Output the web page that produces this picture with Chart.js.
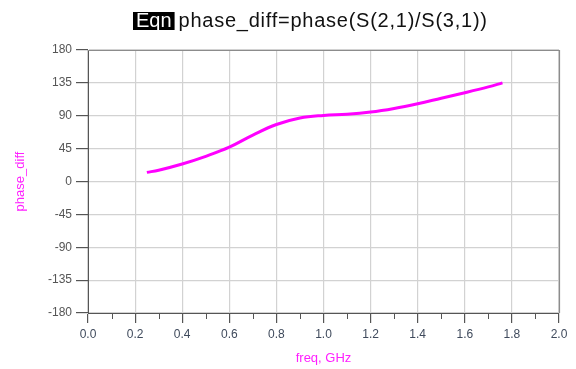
<!DOCTYPE html>
<html>
<head>
<meta charset="utf-8">
<script src="https://cdn.jsdelivr.net/npm/chart.js@4/dist/chart.umd.min.js"></script>
<style>
  html, body { margin: 0; padding: 0; background: #fff; }
  #wrap { width: 576px; height: 369px; }
</style>
</head>
<body>
<div id="wrap"><canvas id="c" width="576" height="369"></canvas></div>
<script>
// Frequency sweep (GHz) and the phase difference of S(2,1)/S(3,1) in degrees
const freqGHz   = [0.25, 0.30, 0.40, 0.50, 0.60, 0.70, 0.80, 0.90, 1.00, 1.10, 1.20, 1.30, 1.40, 1.50, 1.60, 1.70, 1.76];
const phaseDiff = [12.5, 15.5, 24.0, 34.5, 47.0, 63.5, 78.0, 87.0, 90.5, 92.0, 95.0, 100.0, 106.5, 114.0, 121.5, 129.5, 135.0];

const eqnTag   = 'Eqn';
const eqnText  = 'phase_diff=phase(S(2,1)/S(3,1))';
const xTitle   = 'freq, GHz';
const yTitle   = 'phase_diff';

const FONT = '"Liberation Sans", Arial, sans-serif';
const MAGENTA = '#ff1fff';

// Equation header drawn above the plot
const eqnHeader = {
  id: 'eqnHeader',
  afterDraw(chart) {
    const ctx = chart.ctx;
    ctx.save();
    ctx.font = '20px ' + FONT;
    ctx.textBaseline = 'alphabetic';
    const tagW = ctx.measureText(eqnTag).width;
    ctx.fillStyle = '#000';
    ctx.fillRect(133, 12, tagW + 6, 18);
    ctx.fillStyle = '#fff';
    ctx.fillText(eqnTag, 136, 27);
    ctx.fillStyle = '#111';
    ctx.letterSpacing = '0.75px';
    ctx.fillText(eqnText, 133 + tagW + 10, 27);
    ctx.restore();
  }
};

// Top/right frame of the plot box and short minor ticks on the frequency axis
const plotFrame = {
  id: 'plotFrame',
  afterDraw(chart) {
    const { ctx, chartArea: a, scales } = chart;
    ctx.save();
    ctx.strokeStyle = '#8c8c8c';
    ctx.lineWidth = 1.2;
    ctx.beginPath();
    ctx.moveTo(a.left, a.top + 0.5);
    ctx.lineTo(a.right + 0.5, a.top + 0.5);
    ctx.lineTo(a.right + 0.5, a.bottom);
    ctx.stroke();

    ctx.strokeStyle = '#555';
    ctx.lineWidth = 1;
    ctx.beginPath();
    for (let i = 1; i < 20; i += 2) {
      const x = Math.round(scales.x.getPixelForValue(i / 10)) + 0.5;
      ctx.moveTo(x, a.bottom);
      ctx.lineTo(x, a.bottom + 6);
    }
    ctx.stroke();
    ctx.restore();
  }
};

new Chart(document.getElementById('c'), {
  type: 'line',
  data: {
    datasets: [{
      data: freqGHz.map((f, i) => ({ x: f, y: phaseDiff[i] })),
      borderColor: '#ff00ff',
      borderWidth: 3,
      pointRadius: 0,
      tension: 0.4,
      fill: false
    }]
  },
  options: {
    responsive: false,
    devicePixelRatio: 1,
    animation: false,
    layout: { padding: { top: 50, right: 17, left: 0, bottom: 0 } },
    plugins: { legend: { display: false }, tooltip: { enabled: false } },
    scales: {
      x: {
        type: 'linear',
        min: 0, max: 2,
        afterFit(s) { s.height = 56; },
        ticks: {
          stepSize: 0.2,
          autoSkip: false,
          maxRotation: 0,
          padding: 4,
          color: '#3f4a5c',
          font: { family: FONT, size: 12 },
          callback: v => Number(v).toFixed(1)
        },
        grid: { color: '#d2d2d2', lineWidth: 1.2, tickLength: 10, tickColor: '#555' },
        border: { color: '#555', width: 1 },
        title: {
          display: true, text: xTitle, color: MAGENTA,
          font: { family: FONT, size: 13 },
          padding: { top: 0, bottom: 3 }
        }
      },
      y: {
        type: 'linear',
        min: -180, max: 180,
        afterFit(s) { s.width = 88; },
        ticks: {
          stepSize: 45,
          autoSkip: false,
          padding: 4,
          color: '#555',
          font: { family: FONT, size: 12 }
        },
        grid: { color: '#d2d2d2', lineWidth: 1.2, tickLength: 12, tickColor: '#555' },
        border: { color: '#555', width: 1 },
        title: {
          display: true, text: yTitle, color: MAGENTA,
          font: { family: FONT, size: 13 },
          padding: { top: 13, bottom: 0 }
        }
      }
    }
  },
  plugins: [eqnHeader, plotFrame]
});
</script>
</body>
</html>
